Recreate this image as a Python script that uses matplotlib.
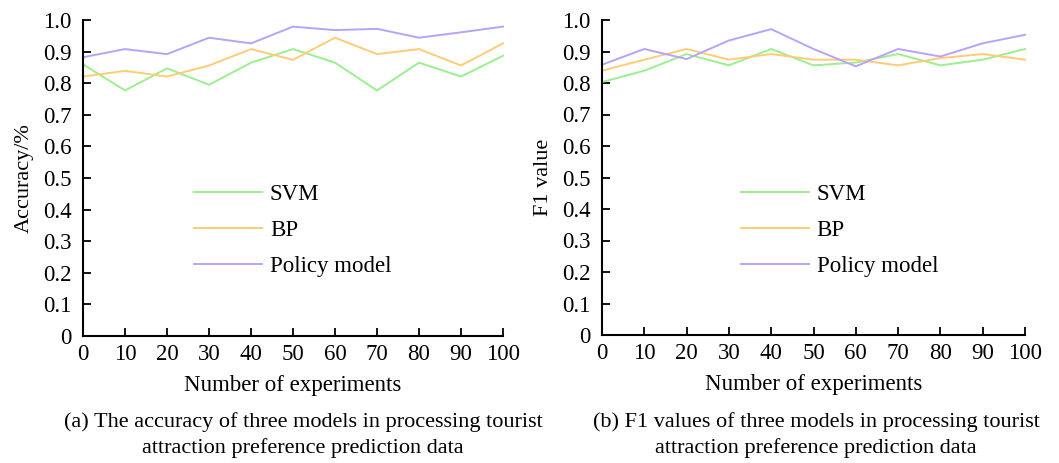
import numpy as np
import matplotlib.pyplot as plt

plt.rcParams['font.family'] = ['Liberation Serif', 'DejaVu Serif']
plt.rcParams['mathtext.fontset'] = 'stix'

experiments = [0, 10, 20, 30, 40, 50, 60, 70, 80, 90, 100]
model_names = ['SVM', 'BP', 'Policy model']

# accuracy per model
acc_svm = [0.860, 0.777, 0.847, 0.795, 0.865, 0.908, 0.865, 0.777, 0.865, 0.821, 0.887]
acc_bp = [0.821, 0.839, 0.821, 0.856, 0.908, 0.874, 0.944, 0.892, 0.908, 0.856, 0.926]
acc_policy = [0.882, 0.908, 0.892, 0.944, 0.926, 0.979, 0.968, 0.972, 0.944, 0.961, 0.979]

# F1 per model
f1_svm = [0.803, 0.839, 0.892, 0.856, 0.908, 0.856, 0.865, 0.892, 0.856, 0.874, 0.908]
f1_bp = [0.839, 0.874, 0.908, 0.874, 0.892, 0.874, 0.874, 0.856, 0.879, 0.892, 0.874]
f1_policy = [0.858, 0.908, 0.876, 0.935, 0.971, 0.908, 0.853, 0.908, 0.884, 0.926, 0.953]

y_ticks = [0, 0.1, 0.2, 0.3, 0.4, 0.5, 0.6, 0.7, 0.8, 0.9, 1.0]
y_tick_labels = ['0', '0.1', '0.2', '0.3', '0.4', '0.5', '0.6', '0.7', '0.8', '0.9', '1.0']

colors = ['#9BEF8F', '#FFCC75', '#B9A2FA']

W, H = 1059, 463
fig = plt.figure(figsize=(W / 100, H / 100), dpi=100)


def px_axes(x0, x1, y0, y1):
    return fig.add_axes([x0 / W, (H - y1) / H, (x1 - x0) / W, (y1 - y0) / H])


def style_axes(ax, ylabel, legend_anchor):
    ax.set_xlim(0, 100)
    ax.set_ylim(0, 1.0)
    ax.set_xticks(experiments)
    ax.set_yticks(y_ticks)
    ax.set_yticklabels(y_tick_labels)
    for side in ('top', 'right'):
        ax.spines[side].set_visible(False)
    for side in ('left', 'bottom'):
        ax.spines[side].set_linewidth(1.5)
    ax.tick_params(direction='in', length=6, width=1.3, labelsize=16.5)
    ax.tick_params(axis='y', pad=8)
    ax.tick_params(axis='x', pad=6)
    ax.set_xlabel('Number of experiments', fontsize=16.5, labelpad=7)
    ax.set_ylabel(ylabel, fontsize=16, labelpad=7)
    ax.legend(loc='upper left', bbox_to_anchor=legend_anchor, frameon=False,
              fontsize=16.5, handlelength=2.95, handletextpad=0.35,
              labelspacing=0.66, borderaxespad=0)


# (a) accuracy
ax1 = px_axes(83, 503, 20, 336)
for vals, name, c in zip([acc_svm, acc_bp, acc_policy], model_names, colors):
    ax1.plot(experiments, vals, color=c, lw=1.4, label=name, clip_on=False)
style_axes(ax1, 'Accuracy/%', (0.243, 0.51))

# (b) F1 value
ax2 = px_axes(602, 1025, 20, 335)
for vals, name, c in zip([f1_svm, f1_bp, f1_policy], model_names, colors):
    ax2.plot(experiments, vals, color=c, lw=1.4, label=name, clip_on=False)
style_axes(ax2, 'F1 value', (0.307, 0.51))

fig.text(303 / W, 1 - 435 / H,
         '(a) The accuracy of three models in processing tourist\nattraction preference prediction data',
         ha='center', va='center', fontsize=16, linespacing=1.38)
fig.text(816 / W, 1 - 435 / H,
         '(b) F1 values of three models in processing tourist\nattraction preference prediction data',
         ha='center', va='center', fontsize=16, linespacing=1.38)

fig.savefig('out.png', dpi=100)
plt.close(fig)
